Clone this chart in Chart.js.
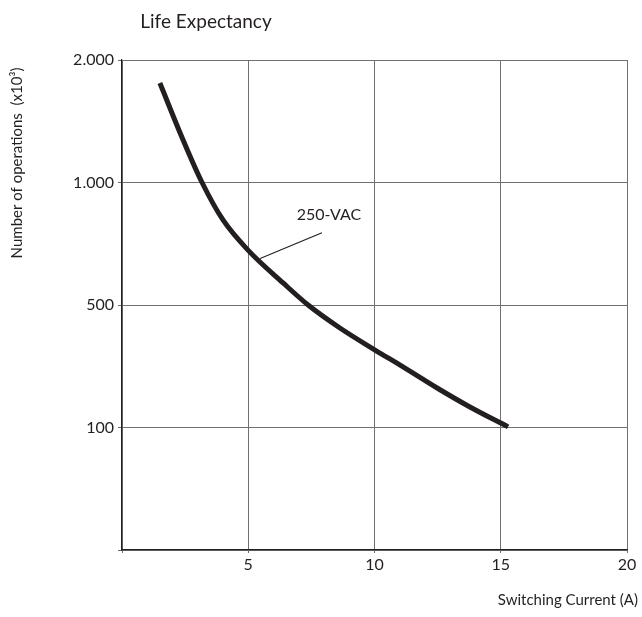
<!DOCTYPE html>
<html>
<head>
<meta charset="utf-8">
<script src="https://cdn.jsdelivr.net/npm/chart.js@4"></script>
<style>
  html, body { margin: 0; padding: 0; background: #fff; }
  #wrap { width: 642px; height: 617px; }
</style>
</head>
<body>
<div id="wrap"><canvas id="lifeChart"></canvas></div>
<script>
// Switching current (A)
const arusSwitching = [1.50, 2.42, 3.17, 4.00, 4.99, 6.38, 7.37, 8.63, 10.02, 11.13, 12.48, 13.78, 15.29];
// Number of operations (x10^3)
const jumlahOperasi = [1812, 1347, 1000, 847, 724, 590, 500, 425, 353, 298, 229, 167, 102];

// y axis ticks are evenly spaced but not linear
const yTickValues = [0, 100, 500, 1000, 2000];
const yTickLabels = ['', '100', '500', '1.000', '2.000'];
const xTickLabels = { 5: '5', 10: '10', 15: '15', 20: '20' };

// label for the curve
const labelKurva = '250-VAC';
const titikPanah = [[5.47, 690], [7.92, 795]];

// convert operations to the axis position (0..4)
function keSkala(v) {
  for (let i = 1; i < yTickValues.length; i++) {
    if (v <= yTickValues[i]) {
      const a = yTickValues[i - 1], b = yTickValues[i];
      return (i - 1) + (v - a) / (b - a);
    }
  }
  return yTickValues.length - 1;
}

const warnaGaris = '#231f20';
const warnaGrid = '#707070';
const fontUtama = "Lato, 'Open Sans', sans-serif";

const teksPlugin = {
  id: 'teksPlugin',
  afterDraw(chart) {
    const ctx = chart.ctx;
    const xs = chart.scales.x, ys = chart.scales.y;
    ctx.save();
    ctx.fillStyle = warnaGaris;

    // chart title
    ctx.font = '19px ' + fontUtama;
    ctx.textAlign = 'center';
    ctx.textBaseline = 'middle';
    ctx.fillText('Life Expectancy', 206, 22);

    // x axis title
    ctx.font = '15px ' + fontUtama;
    ctx.textAlign = 'right';
    ctx.fillText('Switching Current (A)', 638, 600);

    // y axis title
    ctx.save();
    ctx.translate(17, 163);
    ctx.rotate(-Math.PI / 2);
    ctx.textAlign = 'center';
    ctx.fillText('Number of operations  (x10³)', 0, 0);
    ctx.restore();

    // leader line and label
    const p0 = titikPanah[0], p1 = titikPanah[1];
    ctx.strokeStyle = warnaGaris;
    ctx.lineWidth = 1.2;
    ctx.beginPath();
    ctx.moveTo(xs.getPixelForValue(p0[0]), ys.getPixelForValue(keSkala(p0[1])));
    ctx.lineTo(xs.getPixelForValue(p1[0]), ys.getPixelForValue(keSkala(p1[1])));
    ctx.stroke();
    ctx.font = '16px ' + fontUtama;
    ctx.textAlign = 'center';
    ctx.fillText(labelKurva, xs.getPixelForValue(p1[0]) + 7, ys.getPixelForValue(keSkala(p1[1])) - 18);
    ctx.restore();
  }
};

new Chart(document.getElementById('lifeChart'), {
  type: 'line',
  data: {
    datasets: [{
      label: labelKurva,
      data: arusSwitching.map((x, i) => ({ x: x, y: keSkala(jumlahOperasi[i]) })),
      borderColor: warnaGaris,
      borderWidth: 5,
      pointRadius: 0,
      fill: false,
      cubicInterpolationMode: 'monotone'
    }]
  },
  options: {
    responsive: true,
    maintainAspectRatio: false,
    animation: false,
    layout: { padding: { left: 0, right: 15, top: 60, bottom: 0 } },
    plugins: {
      legend: { display: false },
      tooltip: { enabled: false },
      title: { display: false }
    },
    scales: {
      x: {
        type: 'linear',
        min: 0,
        max: 20,
        ticks: {
          stepSize: 5,
          padding: 2,
          color: warnaGaris,
          font: { family: fontUtama, size: 16 },
          callback: v => xTickLabels[v] || ''
        },
        grid: { color: warnaGrid, lineWidth: 1, tickLength: 3 },
        border: { color: warnaGaris, width: 1.2 },
        afterFit: s => { s.height = 67; }
      },
      y: {
        type: 'linear',
        min: 0,
        max: 4,
        ticks: {
          stepSize: 1,
          padding: 4,
          color: warnaGaris,
          font: { family: fontUtama, size: 16 },
          callback: v => yTickLabels[v]
        },
        grid: { color: warnaGrid, lineWidth: 1, tickLength: 4 },
        border: { color: warnaGaris, width: 1.2 },
        afterFit: s => { s.width = 122; }
      }
    }
  },
  plugins: [teksPlugin]
});
</script>
</body>
</html>
